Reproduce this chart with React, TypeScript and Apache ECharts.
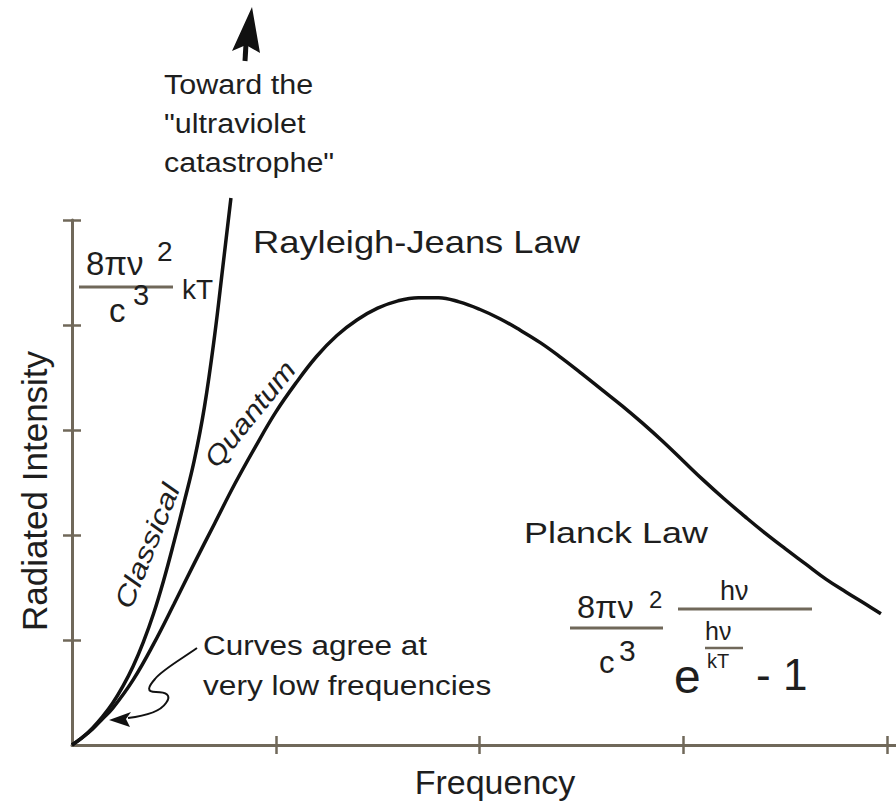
import React, { useEffect, useRef } from "react";
import * as echarts from "echarts";

// Planck law curve (frequency, intensity) in axis units
const planckX = [0, 0.05, 0.1, 0.15, 0.2, 0.3, 0.4, 0.5, 0.6, 0.7, 0.8, 0.9, 1.0, 1.1, 1.2, 1.3, 1.4, 1.5, 1.6, 1.7, 1.8, 1.9, 2.0, 2.1, 2.2, 2.3, 2.4, 2.5, 2.6, 2.7, 2.8, 2.9, 3.0, 3.1, 3.2, 3.3, 3.4, 3.5, 3.6, 3.7, 3.8, 3.9, 3.97];
const planckY = [0, 0.07, 0.15, 0.25, 0.35, 0.62, 0.96, 1.34, 1.73, 2.11, 2.49, 2.84, 3.17, 3.45, 3.7, 3.9, 4.05, 4.16, 4.23, 4.26, 4.26, 4.22, 4.15, 4.06, 3.95, 3.83, 3.69, 3.54, 3.385, 3.23, 3.065, 2.89, 2.705, 2.52, 2.345, 2.18, 2.02, 1.87, 1.725, 1.58, 1.455, 1.335, 1.25];

// Rayleigh-Jeans (classical) curve
const classicalX = [0, 0.05, 0.1, 0.15, 0.2, 0.25, 0.3, 0.35, 0.4, 0.45, 0.5, 0.55, 0.6, 0.65, 0.7, 0.74, 0.78];
const classicalY = [0, 0.07, 0.16, 0.27, 0.4, 0.56, 0.75, 0.98, 1.25, 1.57, 1.93, 2.31, 2.71, 3.22, 3.9, 4.55, 5.21];

const xTickValues = [1, 2, 3, 4];
const yTickValues = [1, 2, 3, 4, 5];
const xAxisMax = 4.044;
const yAxisMax = 5;

const AXIS_COLOR = "#70685a";
const TEXT_COLOR = "#1e1e1e";
const FONT = '"Liberation Sans", Arial, Helvetica, sans-serif';

const agreeArrowPath =
  "M197,648 C180,660 162,670 155,679 C148,687 146,692 156,692 C166,692 172,695 166,703 C160,712 145,716 128,718";

let registered = false;
function registerShapes() {
  if (registered) return;
  echarts.graphic.registerShape("agreeArrow", echarts.graphic.extendPath(agreeArrowPath, {}));
  registered = true;
}

type TOpts = { sx?: number; rot?: number; italic?: boolean; align?: string };
function txt(text: string, x: number, y: number, size: number, o: TOpts = {}) {
  const align = o.align || "left";
  return {
    type: "text",
    x,
    y,
    scaleX: o.sx ?? 1,
    rotation: o.rot ?? 0,
    style: {
      text,
      font: `${o.italic ? "italic " : ""}${size}px ${FONT}`,
      fill: TEXT_COLOR,
      lineHeight: Math.round(size * 0.85),
      align,
      textAlign: align,
      verticalAlign: "middle",
      textVerticalAlign: "middle",
    },
  };
}
function ln(x1: number, y1: number, x2: number, y2: number, w = 3, c = AXIS_COLOR) {
  return { type: "line", shape: { x1, y1, x2, y2 }, style: { stroke: c, lineWidth: w } };
}

function makeAxis(kind: "x" | "y", inside: boolean, showLine: boolean) {
  const common: any = {
    type: "value",
    min: 0,
    max: kind === "x" ? xAxisMax : yAxisMax,
    interval: 1,
    position: kind === "x" ? "bottom" : "left",
    offset: 0,
    axisLine: { show: showLine, onZero: false, lineStyle: { color: AXIS_COLOR, width: 3 } },
    axisTick: {
      show: true,
      inside,
      length: 9,
      customValues: kind === "x" ? xTickValues : yTickValues,
      lineStyle: { color: AXIS_COLOR, width: 2.5 },
    },
    axisLabel: { show: false },
    splitLine: { show: false },
  };
  if (showLine) {
    if (kind === "x") {
      common.name = "Frequency";
      common.nameLocation = "middle";
      common.nameGap = 20;
      common.nameTextStyle = { fontSize: 34, fontFamily: FONT, color: TEXT_COLOR, padding: [0, 0, 0, 22] };
    } else {
      common.name = "Radiated Intensity";
      common.nameLocation = "middle";
      common.nameGap = 20;
      common.nameTextStyle = { fontSize: 35, fontFamily: FONT, color: TEXT_COLOR, padding: [0, 17, 0, 0] };
    }
  }
  return common;
}

export default function App() {
  const ref = useRef<HTMLDivElement>(null);
  useEffect(() => {
    if (!ref.current) return;
    registerShapes();
    const chart = echarts.init(ref.current, null, { renderer: "svg" });
    const graphics: any[] = [
      // arrow toward UV catastrophe
      { type: "polygon", shape: { points: [[252, 7], [232, 51], [246, 45], [260, 53]] }, style: { fill: "#111" } },
      ln(246, 44, 245, 61, 5, "#111"),
      txt("Toward the", 164, 84, 28, { sx: 1.09 }),
      txt("\"ultraviolet", 164, 123, 28, { sx: 1.09 }),
      txt("catastrophe\"", 164, 162, 28, { sx: 1.09 }),
      txt("Rayleigh-Jeans Law", 253, 242, 32, { sx: 1.135 }),
      // Rayleigh-Jeans formula
      txt("8πν", 86, 263, 33),
      txt("2", 157, 251, 28),
      ln(79, 287, 173, 287, 3),
      txt("c", 109, 310, 33),
      txt("3", 133, 295, 29),
      txt("kT", 182, 289, 28),
      // curve labels
      txt("Classical", 147, 546, 27, { sx: 1.22, rot: (68 * Math.PI) / 180, italic: true, align: "center" }),
      txt("Quantum", 250, 414, 27, { sx: 1.15, rot: (51 * Math.PI) / 180, italic: true, align: "center" }),
      // Planck law
      txt("Planck Law", 524, 533, 29, { sx: 1.24 }),
      txt("8πν", 577, 607, 31, { sx: 1.05 }),
      txt("2", 649, 599, 24),
      ln(570, 628, 663, 628, 3),
      txt("c", 599, 662, 31),
      txt("3", 619, 650, 30),
      txt("hν", 720, 591, 27),
      ln(678, 609, 812, 609, 3),
      txt("hν", 705, 631, 25),
      ln(705, 648, 743, 648, 2.5),
      txt("kT", 707, 661, 20),
      txt("e", 674, 676, 48),
      txt("- 1", 756, 674, 44),
      // low frequency note
      txt("Curves agree at", 203, 645, 28, { sx: 1.125 }),
      txt("very low frequencies", 203, 685, 28, { sx: 1.13 }),
      { type: "agreeArrow", x: 0, y: 0, style: { fill: "none", stroke: "#111", lineWidth: 2 } },
      { type: "polygon", shape: { points: [[109, 720], [131, 712], [126, 719], [130, 727]] }, style: { fill: "#111" } },
    ];
    chart.setOption({
      animation: false,
      backgroundColor: "#ffffff",
      grid: { left: 72, right: 0, top: 220, bottom: 64, containLabel: false, outerBoundsMode: "none" },
      xAxis: [makeAxis("x", false, true), makeAxis("x", true, false)],
      yAxis: [makeAxis("y", false, true), makeAxis("y", true, false)],
      series: [
        {
          name: "Quantum",
          type: "line",
          xAxisIndex: 0,
          yAxisIndex: 0,
          data: planckX.map((x, i) => [x, planckY[i]]),
          showSymbol: false,
          symbol: "none",
          smooth: 0.4,
          clip: false,
          lineStyle: { color: "#111", width: 3.5 },
          z: 5,
        },
        {
          name: "Classical",
          type: "line",
          xAxisIndex: 0,
          yAxisIndex: 0,
          data: classicalX.map((x, i) => [x, classicalY[i]]),
          showSymbol: false,
          symbol: "none",
          smooth: 0.4,
          clip: false,
          lineStyle: { color: "#111", width: 3.5 },
          z: 5,
        },
      ],
      graphic: graphics,
    });
    return () => chart.dispose();
  }, []);
  return (
    <div
      ref={ref}
      style={{ position: "absolute", left: 0, top: 0, width: 896, height: 809, background: "#fff" }}
    />
  );
}
